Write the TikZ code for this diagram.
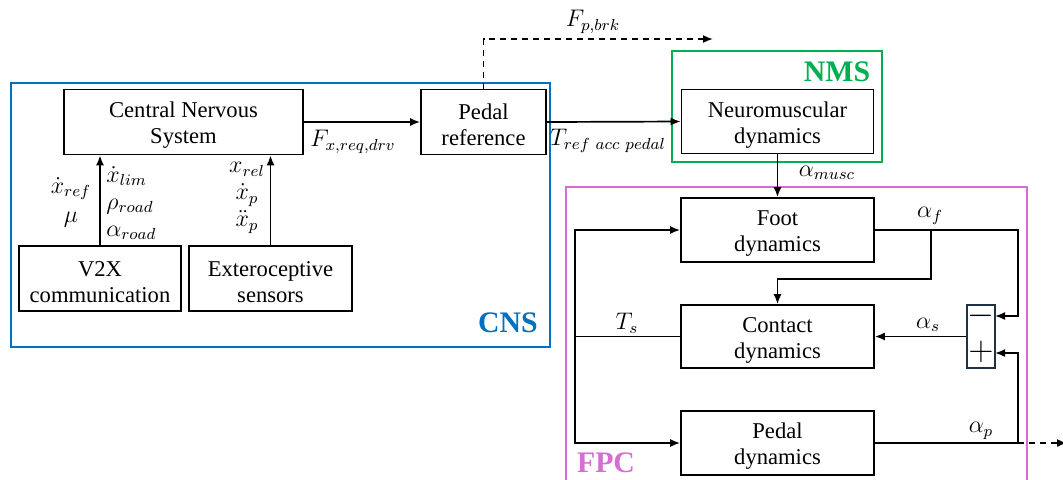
\documentclass[tikz,border=0pt]{standalone}
\usepackage{fontspec}
\setmainfont{Liberation Serif}
\usetikzlibrary{arrows.meta,calc}
\definecolor{cnsblue}{RGB}{0,112,192}
\definecolor{nmsgreen}{RGB}{0,176,80}
\definecolor{fpcpink}{RGB}{214,110,210}
\definecolor{sumframe}{RGB}{30,50,70}
\newcommand{\tl}{\rule{0pt}{11pt}}
\newcommand{\lblfont}{\fontsize{12}{13.5}\selectfont\lineskiplimit=-20pt\relax}
\newcommand{\lblfontb}{\fontsize{12}{14.5}\selectfont\lineskiplimit=-20pt\relax}
\begin{document}
\begin{tikzpicture}[x=0.5pt,y=-0.5pt,
  every node/.style={font=\fontsize{11.3}{13}\selectfont},
  blk/.style={draw,line width=0.85pt,align=center,inner sep=0pt},
  arr/.style={line width=0.85pt,-{Latex[length=5pt,width=4pt]}},
  ln/.style={line width=0.85pt},
  dsh/.style={line width=0.85pt,dash pattern=on 3pt off 2.5pt,-{Latex[length=5pt,width=4pt]}},
  grp/.style={line width=1.4pt},
  lbl/.style={inner sep=0pt,font=\lblfont},
  tag/.style={font=\fontsize{14.9}{16}\selectfont\bfseries,inner sep=0pt}]
\useasboundingbox (0,0) rectangle (1063,479);
\clip (0,0) rectangle (1063,479);
% group frames
\draw[grp,cnsblue] (11,83) rectangle (550,347);
\draw[grp,nmsgreen] (672,51) rectangle (882,162);
\draw[grp,fpcpink] (566,187) rectangle (1027,500);
\node[tag,text=cnsblue] (cnstag) at (508,323) {CNS};
\node[tag,text=nmsgreen] (nmstag) at (837,72) {NMS};
\node[tag,text=fpcpink] (fpctag) at (606,463) {FPC};
% blocks
\node[blk,minimum width=119.5pt,minimum height=32.5pt] (cns) at (183.5,122) {\tl Central Nervous\\System};
\node[blk,minimum width=62.5pt,minimum height=32.5pt] (pref) at (483.5,122) {\tl Pedal\\reference};
\node[blk,minimum width=81pt,minimum height=32.5pt] (v2x) at (100,278.5) {\tl V2X\\communication};
\node[blk,minimum width=81.5pt,minimum height=32.5pt] (ext) at (270.5,278.5) {\tl Exteroceptive\\sensors};
\node[blk,minimum width=96pt,minimum height=32pt] (nmd) at (777.5,121.5) {\tl Neuromuscular\\dynamics};
\node[blk,minimum width=96.5pt,minimum height=32pt] (foot) at (777.5,230) {\tl Foot\\dynamics};
\node[blk,minimum width=96.5pt,minimum height=31.5pt] (contact) at (777.5,336.5) {\tl Contact\\dynamics};
\node[blk,minimum width=96.5pt,minimum height=32pt] (pdyn) at (777.5,443) {\tl Pedal\\dynamics};
\node[draw=sumframe,line width=0.85pt,minimum width=14pt,minimum height=31.5pt,inner sep=0pt] (sum) at (981,336.5) {};
\node[inner sep=0pt,font=\fontsize{17}{18}\selectfont] (minus) at (981,316) {$-$};
\node[inner sep=0pt,font=\fontsize{17}{18}\selectfont] (plus) at (981,352) {$+$};
% coordinates
\coordinate (fpb) at (713,39);
\coordinate (rx) at (1018,0);
\coordinate (lx) at (575,0);
\coordinate (sminus) at (995,316);
\coordinate (splus) at (995,353);
\coordinate (br) at (931,230);
\coordinate (brd) at (931,279);
\coordinate (outc) at (1067,443);
% CNS connectors
\draw[arr] (v2x.north) -- (v2x.north |- cns.south);
\draw[arr] (ext.north) -- (ext.north |- cns.south);
\draw[arr] (cns.east) -- (pref.west);
\draw[dsh] (pref.north) |- (fpb);
\draw[arr] (pref.east) -- (nmd.west);
\draw[arr] (nmd.south) -- (foot.north);
% FPC connectors
\draw[arr] (foot.east) -| (rx |- sminus) -- (sminus);
\draw[arr] (br) -- (brd) -| (contact.north);
\draw[arr] (sum.west) -- (contact.east);
\draw[ln] (contact.west) -- (lx |- contact.west);
\draw[arr] (lx |- contact.west) |- (foot.west);
\draw[arr] (lx |- contact.west) |- (pdyn.west);
\draw[arr] (pdyn.east) -| (rx |- splus) -- (splus);
\draw[dsh] (pdyn.east -| rx) -- (outc);
% labels
\node[lbl,align=center,font=\lblfontb] (l1) at (71,202) {$\dot{x}_{ref}$\\$\mu$};
\node[lbl,align=left,anchor=west] (l3) at (106,203) {$\dot{x}_{lim}$\\$\rho_{road}$\\$\alpha_{road}$};
\node[lbl,align=center] (l6) at (247,198) {$x_{rel}$\\$\dot{x}_{p}$\\$\ddot{x}_{p}$};
\node[lbl] (l9) at (353,142) {$F_{x,req,drv}$};
\node[lbl] (l10) at (593,22) {$F_{p,brk}$};
\node[lbl] (l11) at (608,141) {$T_{ref\ acc\ pedal}$};
\node[lbl] (l12) at (827,173) {$\alpha_{musc}$};
\node[lbl] (l13) at (930,216) {$\alpha_{f}$};
\node[lbl] (l14) at (928,325) {$\alpha_{s}$};
\node[lbl] (l15) at (627,323) {$T_{s}$};
\node[lbl] (l16) at (981,431) {$\alpha_{p}$};
\end{tikzpicture}
\end{document}
